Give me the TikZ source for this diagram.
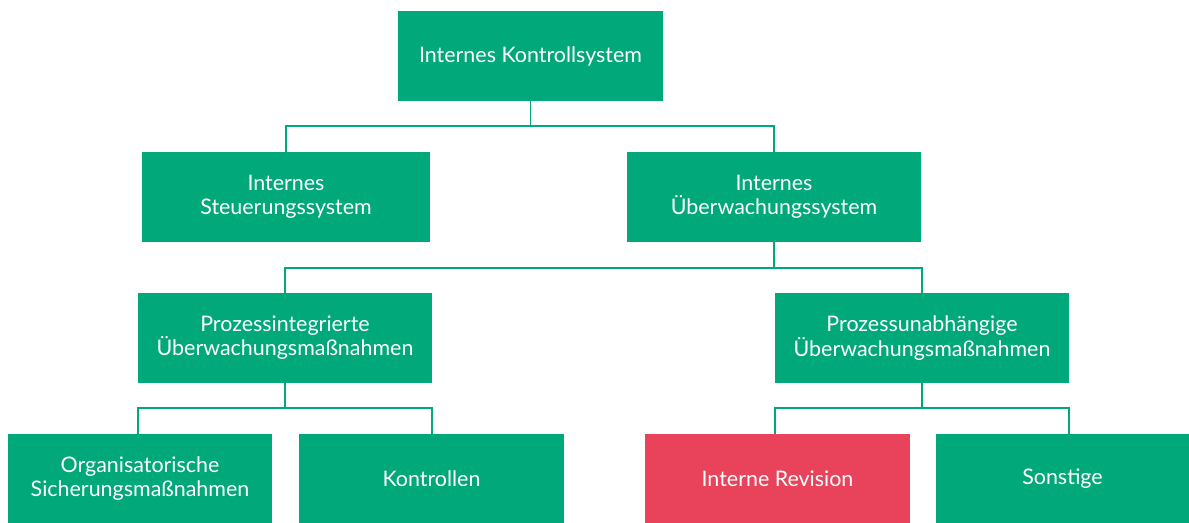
\documentclass[tikz,border=0pt]{standalone}
\usepackage{fontspec}
\setmainfont{Lato}
\usetikzlibrary{positioning}
\definecolor{iksgreen}{RGB}{0,168,122}
\definecolor{iksred}{RGB}{232,67,90}

\begin{document}
\begin{tikzpicture}[x=0.02cm, y=-0.02cm,
        box/.style={fill=iksgreen, text=white, align=center, inner sep=0pt,
            minimum height=1.8cm, font=\fontsize{12.2}{13.8}\selectfont},
        link/.style={draw=iksgreen, line width=1pt}]
        \useasboundingbox (0,0) rectangle (1189,523);
        \node [box, minimum width=5.3cm] (iks) at (530.5,56) {Internes Kontrollsystem};
        \node [box, minimum width=5.76cm] (steu) at (286,197) {Internes\\Steuerungssystem};
        \node [box, minimum width=5.88cm] (ueb) at (774,197) {Internes\\Überwachungssystem};
        \node [box, minimum width=5.88cm] (pint) at (285,338) {Prozessintegrierte\\Überwachungsmaßnahmen};
        \node [box, minimum width=5.88cm] (punab) at (922,338) {Prozessunabhängige\\Überwachungsmaßnahmen};
        \node [box, minimum width=5.28cm, minimum height=1.78cm] (org) at (140,478.5) {Organisatorische\\Sicherungsmaßnahmen};
        \node [box, minimum width=5.3cm, minimum height=1.78cm] (kon) at (431.5,478.5) {Kontrollen};
        \node [box, minimum width=5.3cm, minimum height=1.78cm, fill=iksred] (rev) at (777.5,478.5) {Interne Revision};
        \node [box, minimum width=5.06cm, minimum height=1.78cm] (sons) at (1062.5,478.5) {Sonstige};
        \draw [link] (iks.south) -- ++(0,25) -| (steu.north);
        \draw [link] (iks.south) -- ++(0,25) -| (ueb.north);
        \draw [link] (ueb.south) -- ++(0,26) -| (pint.north);
        \draw [link] (ueb.south) -- ++(0,26) -| (punab.north);
        \draw [link] (pint.south) -- ++(0,25) -| (org.north -| pint.west);
        \draw [link] (pint.south) -- ++(0,25) -| (kon.north -| pint.east);
        \draw [link] (punab.south) -- ++(0,25) -| (rev.north -| punab.west);
        \draw [link] (punab.south) -- ++(0,25) -| (sons.north -| punab.east);
\end{tikzpicture}
\end{document}
